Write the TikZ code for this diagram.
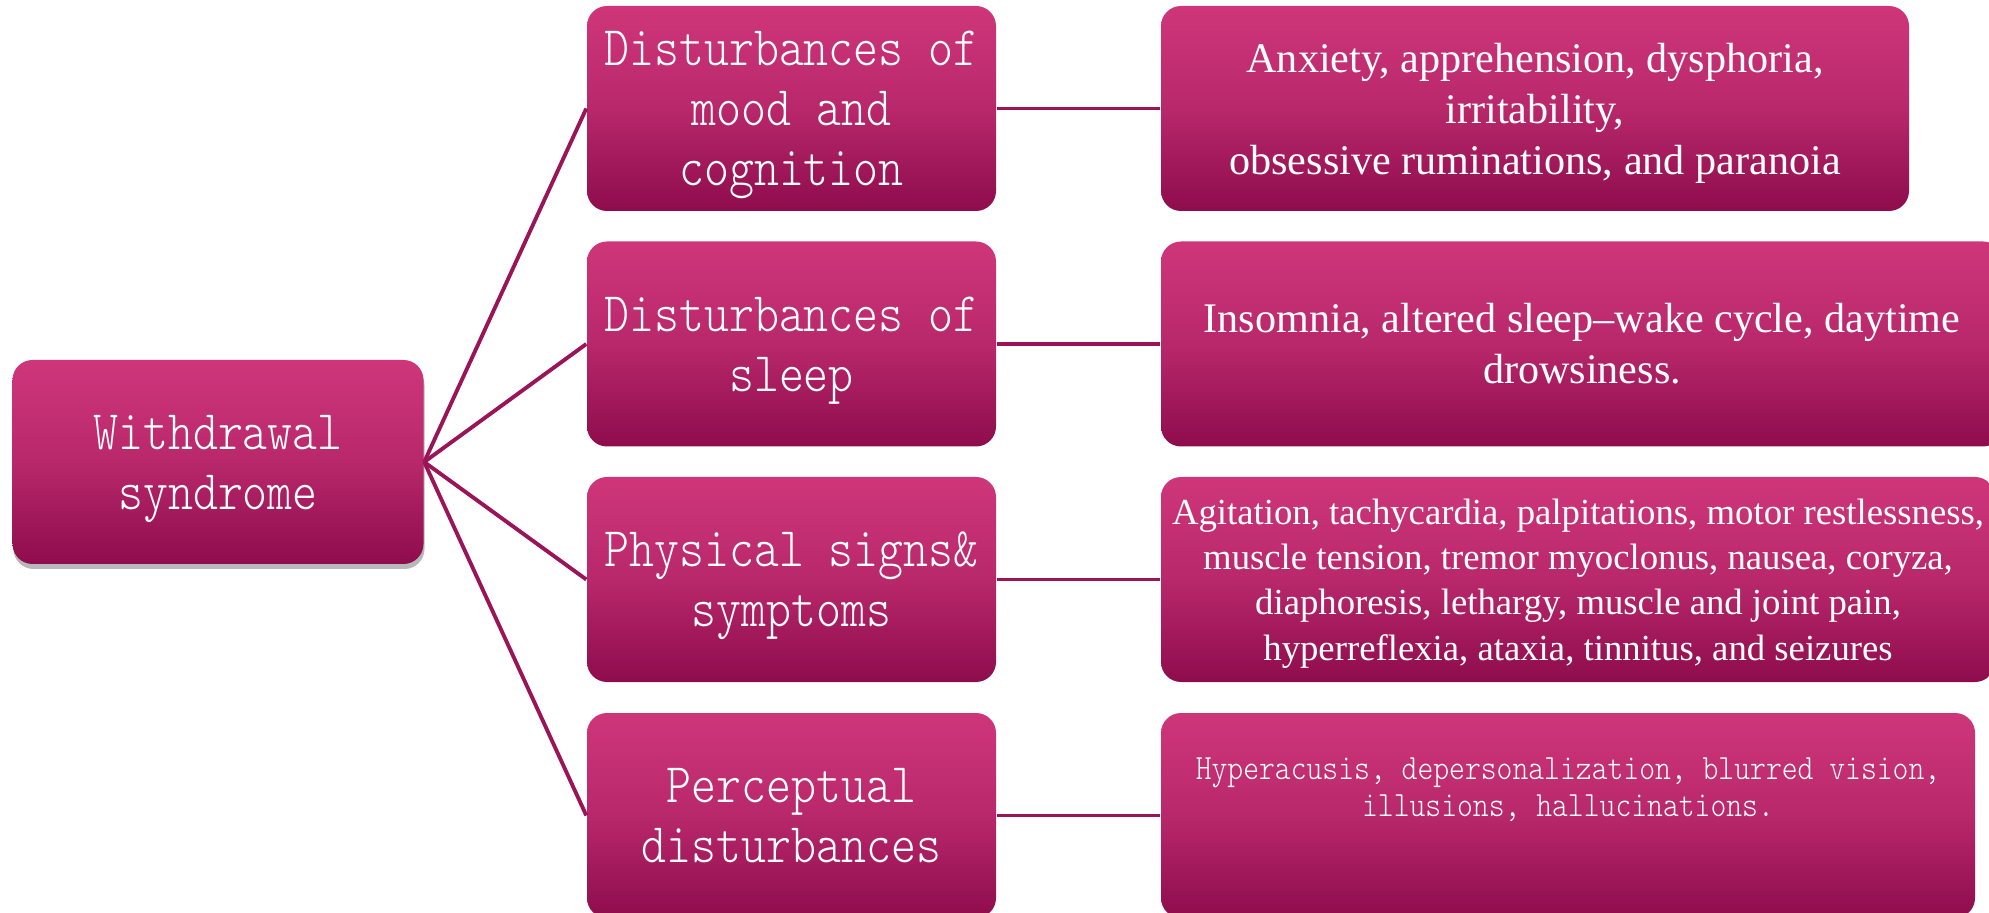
\documentclass[tikz,border=0pt]{standalone}
\usepackage{fontspec}
\setmainfont{Liberation Serif}
\newfontfamily\monolt{lmmonolt10-regular}[Extension=.otf,FakeStretch=0.85]
\usepackage{tikz}
\usetikzlibrary{shadows}

\definecolor{boxtop}{HTML}{CF367A}
\definecolor{boxmid}{HTML}{B8286B}
\definecolor{boxbot}{HTML}{8E0C4D}
\definecolor{linkc}{HTML}{9B1458}

% last line without descender depth
\newcommand\nodepth[1]{\raisebox{0pt}[\height][0pt]{#1}}

\begin{document}
\begin{tikzpicture}[
  box/.style={
    rounded corners=0.2cm,
    top color=boxtop,
    bottom color=boxbot,
    middle color=boxmid,
    text=white,
    align=center,
    minimum height=2.05cm,
    inner sep=2pt
  },
  rootbox/.style={
    box,
    minimum width=4.11cm,
    minimum height=2.04cm,
    font=\monolt\fontsize{15.9pt}{17.1pt}\selectfont,
    drop shadow={shadow xshift=0.01cm,shadow yshift=-0.05cm,opacity=0.28,fill=black}
  },
  groupbox/.style={
    box,
    minimum width=4.09cm,
    font=\monolt\fontsize{15.9pt}{17.1pt}\selectfont
  },
  detailbox/.style={
    box,
    font=\fontsize{12pt}{14.5pt}\selectfont
  },
  link/.style={
    draw=linkc,
    line width=1.1pt
  }
]
\useasboundingbox (0,0) rectangle (19.89,9.12);
\clip (0,0) rectangle (19.89,9.12);

% Gốc
\node[rootbox] (withdrawal) at (2.18,4.50)
  {Withdrawal\\\nodepth{syndrome}};

% Nhóm
\node[groupbox] (mood) at (7.915,8.035)
  {Disturbances of\\mood and\\\nodepth{cognition}};
\node[groupbox] (sleep) at (7.915,5.68)
  {Disturbances of\\\nodepth{sleep}};
\node[groupbox] (physical) at (7.915,3.325)
  {Physical signs\&\\\nodepth{symptoms}};
\node[groupbox] (percept) at (7.915,0.965)
  {Perceptual\\disturbances};

% Chi tiết
\node[detailbox,minimum width=7.48cm] (mooddet) at (15.35,8.035)
  {Anxiety, apprehension, dysphoria,\\irritability,\\\nodepth{obsessive ruminations, and paranoia}};
\node[detailbox,minimum width=8.42cm] (sleepdet) at (15.82,5.68)
  {Insomnia, altered sleep–wake cycle, daytime\\drowsiness.};
\node[detailbox,minimum width=8.34cm,
  font=\fontsize{10.45pt}{12.9pt}\selectfont] (physdet) at (15.78,3.325)
  {Agitation, tachycardia, palpitations, motor restlessness,\\
   muscle tension, tremor myoclonus, nausea, coryza,\\
   diaphoresis, lethargy, muscle and joint pain,\\
   \nodepth{hyperreflexia, ataxia, tinnitus, and seizures}};
\node[detailbox,minimum width=8.14cm,
  font=\monolt\fontsize{10.1pt}{10.5pt}\selectfont] (percdet) at (15.68,0.965)
  {Hyperacusis, depersonalization, blurred vision,\\
   illusions, hallucinations.\\[0.2cm]\mbox{}};

% Gốc -> nhóm
\foreach \grp in {mood,sleep,physical,percept}
  \draw[link] (withdrawal.east) -- (\grp.west);

% Nhóm -> chi tiết
\draw[link] (mood.east) -- (mooddet.west);
\draw[link] (sleep.east) -- (sleepdet.west);
\draw[link] (physical.east) -- (physdet.west);
\draw[link] (percept.east) -- (percdet.west);

\end{tikzpicture}
\end{document}
